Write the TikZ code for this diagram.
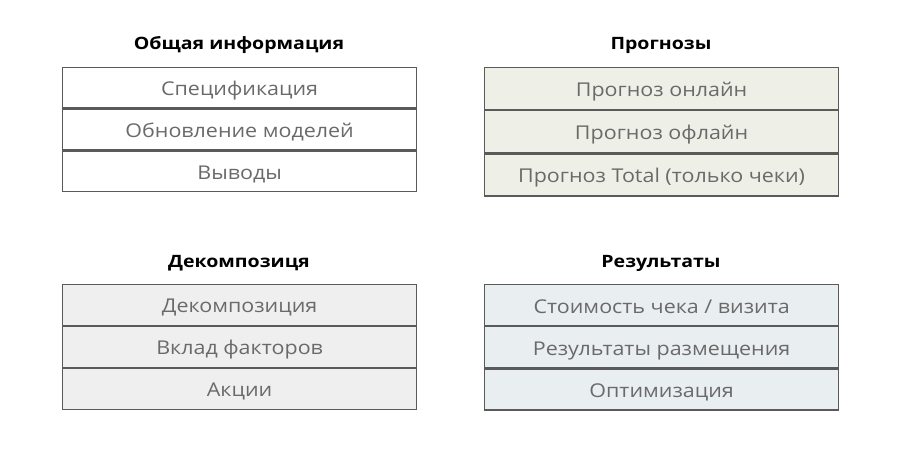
\documentclass[tikz,border=0pt]{standalone}
\usepackage{fontspec}
\setmainfont{Open Sans}
\definecolor{bordc}{HTML}{5A5A5A}
\definecolor{txtc}{HTML}{6A6A6A}
\definecolor{fillA}{HTML}{FFFFFF}
\definecolor{fillB}{HTML}{EEF0E8}
\definecolor{fillC}{HTML}{EFEFEF}
\definecolor{fillD}{HTML}{E9EEF0}
\tikzset{
  row/.style={draw=bordc, line width=1.2pt, minimum width=354pt, inner sep=0pt, text=txtc,
    text height=19pt, text depth=3pt,
    font=\fontsize{19}{22}\selectfont\addfontfeature{FakeStretch=1.13}, anchor=north west},
  ttl/.style={font=\bfseries\fontsize{17}{20}\selectfont\addfontfeature{FakeStretch=1.15}, text=black}
}
\begin{document}
\begin{tikzpicture}[x=1pt,y=-1pt]
\useasboundingbox (0,0) rectangle (900,454);
% top-left
\node[ttl] (t1) at (239,45) {Общая информация};
\node[row, fill=fillA, minimum height=40.5pt] (a1) at (62,67) {Спецификация};
\node[row, fill=fillA, minimum height=40.5pt] (a2) at (a1.south west) {Обновление моделей};
\node[row, fill=fillA, minimum height=40.5pt] (a3) at (a2.south west) {Выводы};
% top-right
\node[ttl] (t2) at (661,45) {Прогнозы};
\node[row, fill=fillB, minimum height=42pt] (b1) at (484,67) {Прогноз онлайн};
\node[row, fill=fillB, minimum height=42pt] (b2) at (b1.south west) {Прогноз офлайн};
\node[row, fill=fillB, minimum height=42pt] (b3) at (b2.south west) {Прогноз Total (только чеки)};
% bottom-left
\node[ttl] (t3) at (239,263) {Декомпозиця};
\node[row, fill=fillC, minimum height=40.7pt] (c1) at (62,284) {Декомпозиция};
\node[row, fill=fillC, minimum height=40.7pt] (c2) at (c1.south west) {Вклад факторов};
\node[row, fill=fillC, minimum height=40.7pt] (c3) at (c2.south west) {Акции};
% bottom-right
\node[ttl] (t4) at (661,263) {Результаты};
\node[row, fill=fillD, minimum height=41pt] (d1) at (484,284) {Стоимость чека / визита};
\node[row, fill=fillD, minimum height=41pt] (d2) at (d1.south west) {Результаты размещения};
\node[row, fill=fillD, minimum height=41pt] (d3) at (d2.south west) {Оптимизация};
\end{tikzpicture}
\end{document}
